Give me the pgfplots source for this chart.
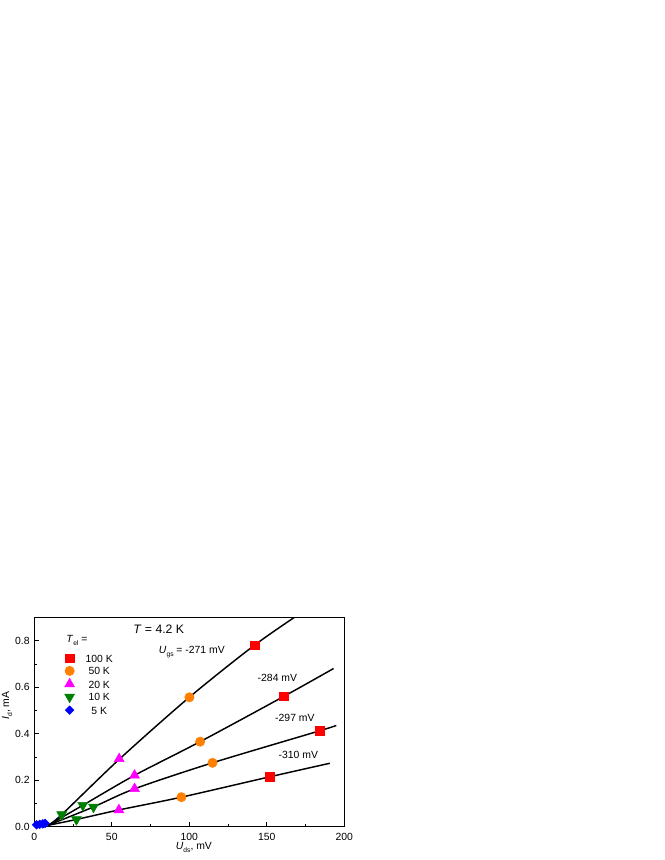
\documentclass[border=0pt]{standalone}
\usepackage{fontspec}
\setmainfont{Liberation Sans}
\usepackage{pgfplots}
\pgfplotsset{compat=1.18}
\newcommand\sub[1]{\raisebox{-0.55ex}{\fontsize{5pt}{5pt}\selectfont #1}}
\definecolor{myorange}{RGB}{255,128,0}
\definecolor{mygreen}{RGB}{0,128,0}
\definecolor{mymagenta}{RGB}{255,0,255}
\definecolor{myblue}{RGB}{0,0,255}
\definecolor{myred}{RGB}{255,0,0}
\begin{document}
\begin{tikzpicture}
\useasboundingbox (0,0) rectangle (498pt,645pt);
\begin{axis}[
  at={(25.7pt,25pt)}, anchor=south west,
  scale only axis, width=232.5pt, height=156.75pt,
  xmin=0, xmax=200, ymin=0, ymax=0.9,
  xtick={0,50,100,150,200}, ytick={0,0.2,0.4,0.6,0.8},
  minor xtick={25,75,125,175}, minor ytick={0.1,0.3,0.5,0.7},
  tick align=inside, xtick pos=left, ytick pos=left,
  major tick length=3.8pt, minor tick length=2.3pt,
  tick style={black, line width=0.6pt},
  axis line style={line width=0.8pt},
  ticklabel style={font=\fontsize{7.8}{9}\selectfont},
  xticklabel style={yshift=-1.5pt},
  /pgf/number format/assume math mode=true,
  yticklabel style={/pgf/number format/fixed, /pgf/number format/fixed zerofill, /pgf/number format/precision=1},
  xlabel={\textit{U}\sub{ds}, mV}, ylabel={\textit{I}\sub{d}, mA},
  label style={font=\fontsize{7.8}{9}\selectfont},
  xlabel style={at={(axis description cs:0.515,-0.1)}, anchor=center},
  ylabel style={at={(axis description cs:-0.088,0.58)}, anchor=center},
  legend style={at={(axis cs:19.2,0.75)}, anchor=north west, draw=none, fill=none,
    font=\fontsize{7.8}{9}\selectfont, inner sep=0pt,
    nodes={inner sep=1pt, text height=6pt, text depth=0pt}, row sep=1.6pt, column sep=0pt},
  legend cell align=center,
  legend image code/.code={\draw[#1] plot coordinates {(0pt,0pt)}; \path[draw=none,fill=none] (-4pt,0pt) -- (11pt,0pt);},
]
% fitted curves
\addplot[black, line width=1.1pt, smooth, forget plot] coordinates {(9,0.006) (17.7,0.052) (54.8,0.29) (100,0.557) (142,0.781) (172,0.92)};
\addplot[black, line width=1.1pt, smooth, forget plot] coordinates {(9,0.006) (31.3,0.092) (64.7,0.221) (107,0.366) (161,0.561) (193.1,0.681)};
\addplot[black, line width=1.1pt, smooth, forget plot] coordinates {(9,0.006) (38.2,0.085) (64.7,0.163) (115,0.275) (184.2,0.413) (194.8,0.436)};
\addplot[black, line width=1.1pt, smooth, forget plot] coordinates {(9,0.006) (27.2,0.031) (54.6,0.072) (94.9,0.127) (152.1,0.215) (190.7,0.273)};
% data
\addplot[only marks, mark=square*, mark size=3.2pt, color=myred] coordinates {(142.2,0.781) (161,0.561) (184.2,0.413) (152.1,0.215)};
\addlegendentry{100 K}
\addplot[only marks, mark=*, mark size=3.5pt, color=myorange] coordinates {(100.1,0.557) (107,0.366) (115,0.275) (94.9,0.127)};
\addlegendentry{50 K}
\addplot[only marks, mark=triangle*, mark size=4.3pt, color=mymagenta] coordinates {(54.8,0.292) (64.7,0.221) (64.7,0.163) (54.6,0.072)};
\addlegendentry{20 K}
\addplot[only marks, mark=triangle*, mark size=4.3pt, color=mygreen, every mark/.append style={rotate=180}] coordinates {(17.7,0.052) (31.3,0.092) (38.2,0.085) (27.2,0.031)};
\addlegendentry{10 K}
\addplot[only marks, mark=square*, mark size=2.3pt, color=myblue, every mark/.append style={rotate=45}] coordinates {(1.5,0.008) (3.5,0.010) (5.5,0.012) (7,0.014)};
\addlegendentry{5 K}
% annotations
\node[font=\fontsize{9.2}{11}\selectfont] at (axis cs:80.3,0.849) {\textit{T} = 4.2 K};
\node[anchor=west, inner sep=0pt, font=\fontsize{7.8}{9}\selectfont] at (axis cs:20.5,0.803) {\textit{T}\sub{el} =};
\node[anchor=west, inner sep=0pt, font=\fontsize{7.8}{9}\selectfont] at (axis cs:80.3,0.753) {\textit{U}\sub{gs} = -271 mV};
\node[anchor=west, inner sep=0pt, font=\fontsize{7.8}{9}\selectfont] at (axis cs:144,0.642) {-284 mV};
\node[anchor=west, inner sep=0pt, font=\fontsize{7.8}{9}\selectfont] at (axis cs:155.3,0.468) {-297 mV};
\node[anchor=west, inner sep=0pt, font=\fontsize{7.8}{9}\selectfont] at (axis cs:157.5,0.31) {-310 mV};
\end{axis}
\end{tikzpicture}
\end{document}
